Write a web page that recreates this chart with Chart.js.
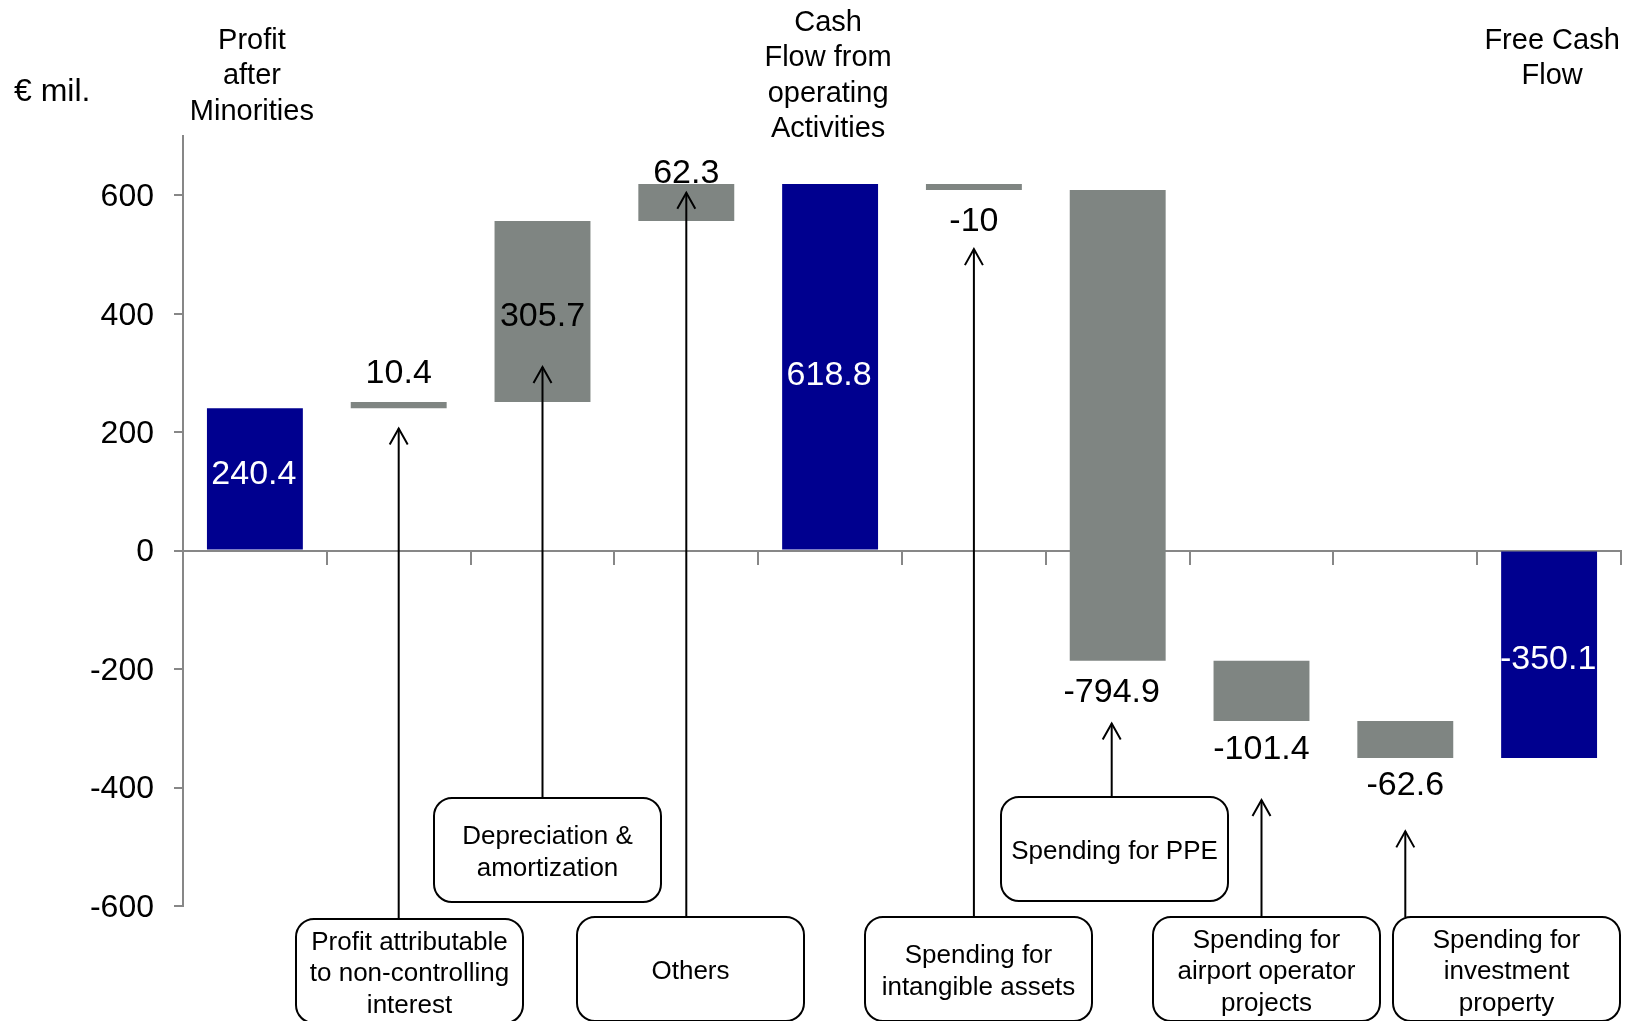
<!DOCTYPE html>
<html>
<head>
<meta charset="utf-8">
<script src="https://cdn.jsdelivr.net/npm/chart.js@4.4.0/dist/chart.umd.min.js"></script>
<style>
  html, body { margin: 0; padding: 0; background: #fff; }
  canvas { display: block; }
</style>
</head>
<body>
<canvas id="myChart" width="1627" height="1021"></canvas>
<script>
const ctx = document.getElementById('myChart');

// cash flow bridge, € mil.
const categories = [
    ['Profit', 'after', 'Minorities'],
    ['Profit attributable', 'to non-controlling', 'interest'],
    ['Depreciation &', 'amortization'],
    ['Others'],
    ['Cash', 'Flow from', 'operating', 'Activities'],
    ['Spending for', 'intangible assets'],
    ['Spending for PPE'],
    ['Spending for', 'airport operator', 'projects'],
    ['Spending for', 'investment', 'property'],
    ['Free Cash', 'Flow']
];
const amounts = [240.4, 10.4, 305.7, 62.3, 618.8, -10, -794.9, -101.4, -62.6, -350.1];
const isTotal = [true, false, false, false, true, false, false, false, false, true];
const yTicks = [-600, -400, -200, 0, 200, 400, 600];

const NAVY = '#00008f';
const GREY = '#7f8582';
const AXIS = '#878787';
const FONT = "'Liberation Sans', Arial, sans-serif";

// totals start at zero, steps float from the running total
let running = 0;
const ranges = amounts.map((v, i) => {
    if (isTotal[i]) {
        running = v;
        return [0, v];
    }
    const r = [running, running + v];
    running += v;
    return r;
});

const bridgeText = {
    id: 'bridgeText',
    afterDatasetsDraw(chart, args, opts) {
        const c = chart.ctx;
        const xs = chart.scales.x;
        const ys = chart.scales.y;
        const bars = chart.getDatasetMeta(0).data;
        const dy = 3; // 'middle' baseline sits a little high for this font

        c.save();
        c.textAlign = 'center';
        c.textBaseline = 'middle';

        // value labels
        c.font = '34px ' + FONT;
        bars.forEach((bar, i) => {
            const top = Math.min(bar.y, bar.base);
            const bottom = Math.max(bar.y, bar.base);
            let y;
            if (opts.inside.includes(i)) {
                y = (top + bottom) / 2;
            } else if (amounts[i] > 0) {
                y = top - opts.gap[i];
            } else {
                y = bottom + opts.gap[i];
            }
            const nudge = opts.nudge[i] || [0, 0];
            c.fillStyle = isTotal[i] ? '#fff' : '#000';
            c.fillText(String(amounts[i]), bar.x + nudge[0], y + dy + nudge[1]);
        });

        // headings over the totals
        c.fillStyle = '#000';
        c.font = '29px ' + FONT;
        opts.headings.forEach(h => {
            const x = xs.getPixelForValue(h.index) + h.dx;
            categories[h.index].forEach((line, k) => c.fillText(line, x, h.top + dy + k * 35.3));
        });

        c.textAlign = 'left';
        c.font = '32px ' + FONT;
        c.fillText('€ mil.', 14, 89 + dy);

        // callout boxes with arrows pointing at the steps
        c.strokeStyle = '#000';
        c.lineWidth = 2;
        c.textAlign = 'center';
        c.font = '26px ' + FONT;
        opts.callouts.forEach(cb => {
            const ax = xs.getPixelForValue(cb.index) + (cb.dx || 0);
            const tipY = ys.getPixelForValue(cb.tip);
            c.beginPath();
            c.moveTo(ax, cb.top);
            c.lineTo(ax, tipY);
            c.stroke();
            c.beginPath();
            c.moveTo(ax - 9, tipY + 16);
            c.lineTo(ax, tipY);
            c.lineTo(ax + 9, tipY + 16);
            c.stroke();

            c.beginPath();
            c.roundRect(cb.left, cb.top, 227, 104, 18);
            c.fillStyle = '#fff';
            c.fill();
            c.stroke();

            const lines = categories[cb.index];
            const cy = cb.top + 52 - (lines.length - 1) * 31.5 / 2;
            c.fillStyle = '#000';
            lines.forEach((line, k) => c.fillText(line, cb.left + 113.5, cy + dy + k * 31.5));
        });
        c.restore();
    }
};

const data = {
    labels: categories,
    datasets: [
        {
            data: ranges,
            backgroundColor: isTotal.map(t => t ? NAVY : GREY),
            borderWidth: 0,
            barPercentage: 0.667,
            categoryPercentage: 1
        }
    ]
};

const config = {
    type: 'bar',
    data: data,
    plugins: [bridgeText],
    options: {
        responsive: false,
        animation: false,
        devicePixelRatio: 1,
        layout: {
            padding: { top: 136, bottom: 115, left: 0, right: 6 }
        },
        plugins: {
            legend: { display: false },
            tooltip: { enabled: false },
            bridgeText: {
                inside: [0, 2, 4, 9],
                gap: { 1: 31, 3: 13, 5: 29, 6: 29, 7: 26, 8: 25 },
                nudge: { 0: [-1, -7], 2: [0, 2], 4: [-1, 6], 6: [-6, 0], 9: [-1, 2] },
                headings: [
                    { index: 0, top: 38, dx: -3 },
                    { index: 4, top: 20, dx: -2 },
                    { index: 9, top: 38, dx: 3 }
                ],
                callouts: [
                    { index: 1, left: 296, top: 919, tip: 206 },
                    { index: 2, left: 434, top: 798, tip: 310 },
                    { index: 3, left: 577, top: 917, tip: 604 },
                    { index: 5, left: 865, top: 917, tip: 509 },
                    { index: 6, left: 1001, top: 797, tip: -292, dx: -6 },
                    { index: 7, left: 1153, top: 917, tip: -421 },
                    { index: 8, left: 1393, top: 917, tip: -474 }
                ]
            }
        },
        scales: {
            x: {
                position: { y: 0 },
                afterFit: s => { s.height = 0; },
                grid: {
                    drawOnChartArea: false,
                    offset: true,
                    tickLength: 13,
                    color: AXIS,
                    lineWidth: 2
                },
                border: { color: AXIS, width: 2 },
                ticks: { display: false }
            },
            y: {
                min: -600,
                max: 700,
                afterBuildTicks: s => { s.ticks = yTicks.map(v => ({ value: v })); },
                afterFit: s => { s.width = 183; },
                grid: {
                    drawOnChartArea: false,
                    tickLength: 9,
                    color: AXIS,
                    lineWidth: 2
                },
                border: { color: AXIS, width: 2 },
                ticks: {
                    color: '#000',
                    padding: 20,
                    labelOffset: 2,
                    font: { family: FONT, size: 32 }
                }
            }
        }
    }
};

new Chart(ctx, config);
</script>
</body>
</html>
